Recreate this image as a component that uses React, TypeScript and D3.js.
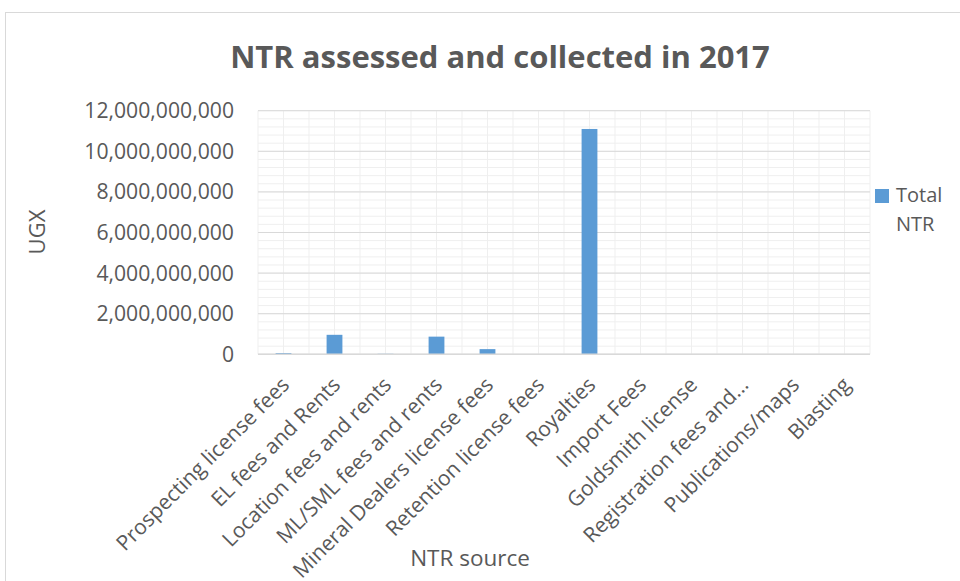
import React from "react";
import * as d3 from "d3";

const categories = [
  "Prospecting license fees",
  "EL fees and Rents",
  "Location fees and rents",
  "ML/SML fees and rents",
  "Mineral Dealers license fees",
  "Retention license fees",
  "Royalties",
  "Import Fees",
  "Goldsmith license",
  "Registration fees and...",
  "Publications/maps",
  "Blasting",
];
const totalNTR = [
  60e6, 960e6, 25e6, 870e6, 255e6, 8e6, 11100e6, 2e6, 1e6, 1e6, 1e6, 1e6,
];
const yTicks = [0, 2e9, 4e9, 6e9, 8e9, 10e9, 12e9];
const title = "NTR assessed and collected in 2017";
const seriesName = "Total NTR";

const W = 960;
const H = 581;
const plot = { left: 258, right: 870, top: 110.7, bottom: 354.3 };
const textColor = "#595959";
const barColor = "#5b9bd5";
const font = "'Open Sans', sans-serif";

export default function App() {
  const x = d3
    .scaleBand<string>()
    .domain(categories)
    .range([plot.left, plot.right])
    .paddingInner(0.69)
    .paddingOuter(0.345);
  const xOuter = d3.scaleBand<string>().domain(categories).range([plot.left, plot.right]);
  const y = d3.scaleLinear().domain([0, 12e9]).range([plot.bottom, plot.top]);
  const fmt = d3.format(",");

  const minorY = d3.range(0, 12e9 + 1, 0.4e9);
  const halfStep = xOuter.step() / 2;
  const minorX = d3.range(0, categories.length * 2 + 1).map((i) => plot.left + i * halfStep);

  return (
    <svg
      width={W}
      height={H}
      style={{ position: "absolute", left: 0, top: 0, background: "#fff" }}
    >
      <rect x={5.5} y={12.5} width={W} height={H} fill="#fff" stroke="#d9d9d9" strokeWidth={1} />
      <text
        x={500}
        y={68}
        textAnchor="middle"
        fontFamily={font}
        fontWeight="bold"
        fontSize={31}
        fill={textColor}
      >
        {title}
      </text>
      {/* minor grid */}
      {minorY.map((v, i) => (
        <line key={"my" + i} x1={plot.left} x2={plot.right} y1={y(v)} y2={y(v)} stroke="#efefef" strokeWidth={1} />
      ))}
      {minorX.map((xx, i) => (
        <line key={"mx" + i} x1={xx} x2={xx} y1={plot.top} y2={plot.bottom} stroke="#efefef" strokeWidth={1} />
      ))}
      {/* major grid */}
      {yTicks.map((v, i) => (
        <line key={"gy" + i} x1={plot.left} x2={plot.right} y1={y(v)} y2={y(v)} stroke="#d9d9d9" strokeWidth={1} />
      ))}
      {/* bars */}
      {categories.map((c, i) => (
        <rect
          key={c}
          x={x(c)}
          width={x.bandwidth()}
          y={y(totalNTR[i])}
          height={Math.max(0, y(0) - y(totalNTR[i]))}
          fill={barColor}
        />
      ))}
      <line x1={plot.left} x2={plot.right} y1={y(0)} y2={y(0)} stroke="#d9d9d9" strokeWidth={1.5} />
      {/* y tick labels */}
      {yTicks.map((v, i) => (
        <text
          key={"yt" + i}
          x={234}
          y={y(v)}
          dy="0.35em"
          textAnchor="end"
          fontFamily={font}
          fontSize={21.2}
          fill={textColor}
        >
          {fmt(v)}
        </text>
      ))}
      {/* x tick labels */}
      {categories.map((c) => {
        const cx = (xOuter(c) as number) + xOuter.bandwidth() / 2;
        return (
          <text
            key={"xt" + c}
            transform={`translate(${cx + 2},${381}) rotate(-45)`}
            textAnchor="end"
            dy="0.35em"
            fontFamily={font}
            fontSize={21}
            fill={textColor}
          >
            {c}
          </text>
        );
      })}
      <text
        x={470}
        y={566}
        textAnchor="middle"
        fontFamily={font}
        fontSize={22.5}
        fill={textColor}
      >
        NTR source
      </text>
      <text
        transform={`translate(45,232) rotate(-90)`}
        textAnchor="middle"
        fontFamily={font}
        fontSize={22}
        fill={textColor}
      >
        UGX
      </text>
      {/* legend */}
      <rect x={875} y={189} width={14} height={14} fill={barColor} />
      <text x={896} y={202} fontFamily={font} fontSize={20} fill={textColor}>
        {seriesName.split(" ")[0]}
      </text>
      <text x={896} y={231} fontFamily={font} fontSize={20} fill={textColor}>
        {seriesName.split(" ")[1]}
      </text>
    </svg>
  );
}
